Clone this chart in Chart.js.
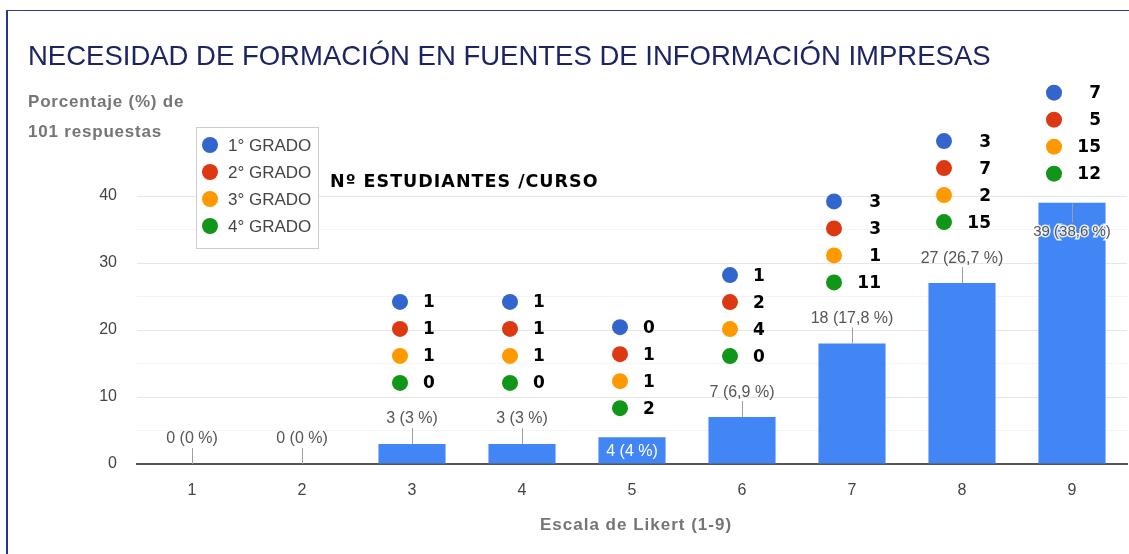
<!DOCTYPE html>
<html>
<head>
<meta charset="utf-8">
<script src="https://cdn.jsdelivr.net/npm/chart.js@4/dist/chart.umd.min.js"></script>
<style>
  html, body { margin: 0; padding: 0; background: #fff; }
  #frame {
    position: absolute; left: 6px; top: 10px; width: 1123px; height: 544px;
    border-top: 1px solid #2b3f8c; border-left: 2px solid #1f3a8a;
    box-sizing: border-box;
  }
  #wrap { position: absolute; left: 0; top: 0; width: 1129px; height: 554px; }
</style>
</head>
<body>
<div id="frame"></div>
<div id="wrap"><canvas id="myChart"></canvas></div>
<script>
// escala de Likert
const categories = ['1', '2', '3', '4', '5', '6', '7', '8', '9'];
// respuestas por valor (total 101)
const responses = [0, 0, 3, 3, 4, 7, 18, 27, 39];
const totalResponses = 101;
// alumnos por curso en cada valor
const grado1 = [null, null, 1, 1, 0, 1, 3, 3, 7];
const grado2 = [null, null, 1, 1, 1, 2, 3, 7, 5];
const grado3 = [null, null, 1, 1, 1, 4, 1, 2, 15];
const grado4 = [null, null, 0, 0, 2, 0, 11, 15, 12];
const gradeNames = ['1° GRADO', '2° GRADO', '3° GRADO', '4° GRADO'];
const yTicks = [0, 10, 20, 30, 40];

const gradeColors = ['#3366cc', '#dc3912', '#ff9900', '#109618'];
const insideLabels = ['5', '9']; // etiquetas dentro de la barra
const FONT = '"Liberation Sans", Arial, sans-serif';

function pctText(v) {
    let p = (v / totalResponses * 100).toFixed(1);
    if (p.endsWith('.0')) p = p.slice(0, -2);
    return v + ' (' + p.replace('.', ',') + ' %)';
}

const annotationsPlugin = {
    id: 'annotations',
    afterDatasetsDraw(chart) {
        const ctx = chart.ctx;
        const meta = chart.getDatasetMeta(0);
        const grades = [grado1, grado2, grado3, grado4];
        ctx.save();
        meta.data.forEach((bar, i) => {
            const v = responses[i];
            const x = bar.x;
            const top = bar.y;
            const text = pctText(v);
            ctx.font = '16px ' + FONT;
            ctx.textAlign = 'center';
            ctx.textBaseline = 'middle';
            let upper; // lo más alto ocupado por barra + etiqueta
            if (insideLabels.includes(categories[i])) {
                if (v < 10) {
                    // etiqueta blanca dentro de la barra
                    ctx.fillStyle = '#ffffff';
                    ctx.fillText(text, x, top + 14);
                } else {
                    const ly = top + 29;
                    ctx.strokeStyle = '#9e9e9e';
                    ctx.lineWidth = 1;
                    ctx.beginPath();
                    ctx.moveTo(x + 0.5, top);
                    ctx.lineTo(x + 0.5, ly - 9);
                    ctx.stroke();
                    ctx.font = '15px ' + FONT;
                    ctx.lineWidth = 3;
                    ctx.strokeStyle = 'rgba(255,255,255,0.85)';
                    ctx.strokeText(text, x, ly);
                    ctx.fillStyle = '#555555';
                    ctx.fillText(text, x, ly);
                }
                upper = top;
            } else {
                const ly = top - 25;
                ctx.strokeStyle = '#9e9e9e';
                ctx.lineWidth = 1;
                ctx.beginPath();
                ctx.moveTo(x + 0.5, ly + 9);
                ctx.lineTo(x + 0.5, top);
                ctx.stroke();
                ctx.fillStyle = '#555555';
                ctx.fillText(text, x, ly);
                upper = ly - 7;
            }

            // puntos por curso
            if (grado1[i] === null) return;
            const vals = grades.map(g => g[i]);
            const wide = vals.some(n => n >= 10);
            const dotX = wide ? x - 18 : x - 12;
            const lastY = upper - 29;
            ctx.font = 'bold 17px "DejaVu Sans", Verdana, sans-serif';
            vals.forEach((n, k) => {
                const y = lastY - (3 - k) * 27;
                ctx.fillStyle = gradeColors[k];
                ctx.beginPath();
                ctx.arc(dotX, y, 8, 0, Math.PI * 2);
                ctx.fill();
                ctx.fillStyle = '#000000';
                if (wide) {
                    ctx.textAlign = 'right';
                    ctx.fillText(String(n), x + 29, y + 1);
                } else {
                    ctx.textAlign = 'left';
                    ctx.fillText(String(n), x + 11, y + 1);
                }
            });
        });
        ctx.restore();
    },
    afterDraw(chart) {
        const ctx = chart.ctx;
        ctx.save();
        // título
        ctx.textBaseline = 'middle';
        ctx.textAlign = 'left';
        ctx.fillStyle = '#1c2463';
        ctx.font = '27.5px ' + FONT;
        ctx.fillText('NECESIDAD DE FORMACIÓN EN FUENTES DE INFORMACIÓN IMPRESAS', 28, 57);
        // título eje y
        ctx.fillStyle = '#757575';
        ctx.font = 'bold 17px ' + FONT;
        ctx.letterSpacing = '0.8px';
        ctx.fillText('Porcentaje (%) de', 28, 102);
        ctx.fillText('101 respuestas', 28, 132);
        // título eje x
        ctx.letterSpacing = '1px';
        ctx.textAlign = 'center';
        ctx.fillText('Escala de Likert (1-9)', 636, 525);
        // subtítulo
        ctx.textAlign = 'left';
        ctx.fillStyle = '#000000';
        ctx.font = 'bold 17.5px "DejaVu Sans", Verdana, sans-serif';
        ctx.letterSpacing = '1px';
        ctx.fillText('Nº ESTUDIANTES /CURSO', 330, 182);
        ctx.letterSpacing = '0px';
        // leyenda
        ctx.fillStyle = '#ffffff';
        ctx.fillRect(196, 127, 122, 121);
        ctx.strokeStyle = '#cccccc';
        ctx.lineWidth = 1;
        ctx.strokeRect(196.5, 127.5, 122, 121);
        ctx.font = '17px ' + FONT;
        gradeNames.forEach((name, k) => {
            const y = 145 + k * 27;
            ctx.fillStyle = gradeColors[k];
            ctx.beginPath();
            ctx.arc(210, y, 8, 0, Math.PI * 2);
            ctx.fill();
            ctx.fillStyle = '#444444';
            ctx.fillText(name, 228, y + 1);
        });
        ctx.restore();
    }
};

const ctx = document.getElementById('myChart').getContext('2d');
const myChart = new Chart(ctx, {
    type: 'bar',
    data: {
        labels: categories,
        datasets: [{
            data: responses,
            backgroundColor: '#4285f4',
            categoryPercentage: 1,
            barPercentage: 0.61
        }]
    },
    options: {
        responsive: true,
        maintainAspectRatio: false,
        animation: false,
        layout: { padding: { top: 196, right: 2, left: 0, bottom: 0 } },
        plugins: {
            legend: { display: false },
            title: { display: false },
            tooltip: { enabled: false }
        },
        scales: {
            x: {
                grid: { display: false },
                border: { display: true, color: '#555555', width: 2 },
                ticks: {
                    color: '#444444',
                    padding: 9,
                    font: { family: FONT, size: 16 }
                },
                afterFit: (s) => { s.height = 90; }
            },
            y: {
                min: 0,
                max: 40,
                afterBuildTicks: (s) => {
                    s.ticks = [0, 5, 10, 15, 20, 25, 30, 35, 40].map(v => ({ value: v }));
                },
                grid: {
                    drawTicks: false,
                    color: (c) => (yTicks.includes(c.tick.value) ? '#e6e6e6' : '#f4f4f4')
                },
                border: { display: false },
                ticks: {
                    color: '#444444',
                    padding: 20,
                    font: { family: FONT, size: 16 },
                    callback: (v) => (yTicks.includes(v) ? v : '')
                },
                afterFit: (s) => { s.width = 137; }
            }
        }
    },
    plugins: [annotationsPlugin]
});
</script>
</body>
</html>
